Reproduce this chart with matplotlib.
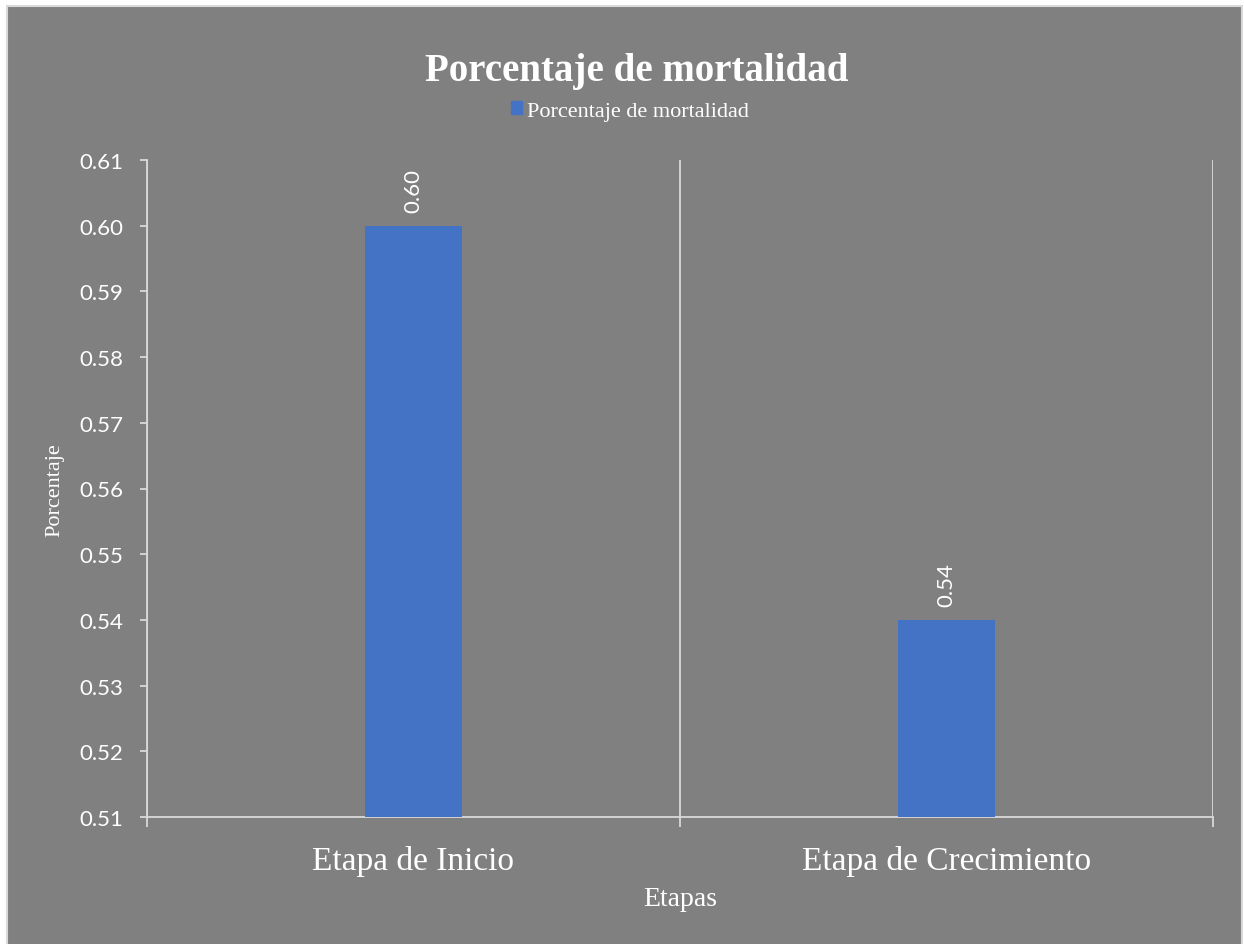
import matplotlib
matplotlib.use("Agg")
import matplotlib.pyplot as plt
from matplotlib.patches import Rectangle, Patch

### data ###
categories = ["Etapa de Inicio", "Etapa de Crecimiento"]
values = [0.60, 0.54]
series_name = "Porcentaje de mortalidad"
yticks = [0.51, 0.52, 0.53, 0.54, 0.55, 0.56, 0.57, 0.58, 0.59, 0.60, 0.61]

### colours ###
bgcolour = "#808080"
barcolour = "#4472C4"
linecolour = "#D9D9D9"
textcolour = "white"

W, H = 1244, 945
fig = plt.figure(figsize=(W / 100, H / 100), dpi=100)
fig.patch.set_facecolor("white")
# chart area with light border (bottom edge runs off the image)
fig.patches.append(Rectangle((7 / W, -0.05), 1235 / W, 1.05 - 7 / H, transform=fig.transFigure,
                             facecolor=bgcolour, edgecolor=linecolour, linewidth=1.5, zorder=-10))

ax = fig.add_axes([147 / W, 1 - 818 / H, (1213 - 147) / W, (818 - 161) / H])
ax.set_facecolor("none")

x = list(range(len(categories)))
ax.bar(x, values, width=0.182, color=barcolour, zorder=3)

for xi, v in zip(x, values):
    ax.annotate(f"{v:.2f}", (xi, v), xytext=(0, 10), textcoords="offset points",
                rotation=90, ha="center", va="bottom", color=textcolour,
                fontsize=16, family="Lato")

ax.set_ylim(yticks[0], yticks[-1])
ax.set_yticks(yticks)
ax.set_yticklabels([f"{t:.2f}" for t in yticks], family="Lato", fontsize=16, color=textcolour)
ax.tick_params(axis="y", length=5, width=1.3, color=linecolour, pad=12)

ax.set_xlim(-0.5, len(categories) - 0.5)
ax.set_xticks([i - 0.5 for i in range(len(categories) + 1)])
ax.set_xticklabels([])
ax.tick_params(axis="x", which="major", length=7, width=1.3, color=linecolour)
ax.set_xticks(x, minor=True)
ax.set_xticklabels(categories, minor=True, family="Liberation Serif", fontsize=24, color=textcolour)
ax.tick_params(axis="x", which="minor", length=0, pad=20)
ax.grid(axis="x", which="major", color=linecolour, linewidth=1.3, zorder=0)

for side in ["top", "right"]:
    ax.spines[side].set_visible(False)
for side in ["left", "bottom"]:
    ax.spines[side].set_color(linecolour)
    ax.spines[side].set_linewidth(1.3)

fig.text(637 / W, 1 - 72 / H, series_name, ha="center", va="center", color=textcolour,
         family="Liberation Serif", fontweight="bold", fontsize=28)
fig.legend(handles=[Patch(color=barcolour, label=series_name)], loc="center",
           bbox_to_anchor=(630 / W, 1 - 112 / H), frameon=False, handlelength=0.5,
           handleheight=0.5, handletextpad=0.2, labelcolor=textcolour,
           prop={"family": "Liberation Serif", "size": 16})
fig.text(55 / W, 1 - 490 / H, "Porcentaje", rotation=90, ha="center", va="center",
         color=textcolour, family="Liberation Serif", fontsize=16)
fig.text(680 / W, 1 - 900 / H, "Etapas", ha="center", va="center",
         color=textcolour, family="Liberation Serif", fontsize=20)

fig.savefig("out.png", dpi=100)
